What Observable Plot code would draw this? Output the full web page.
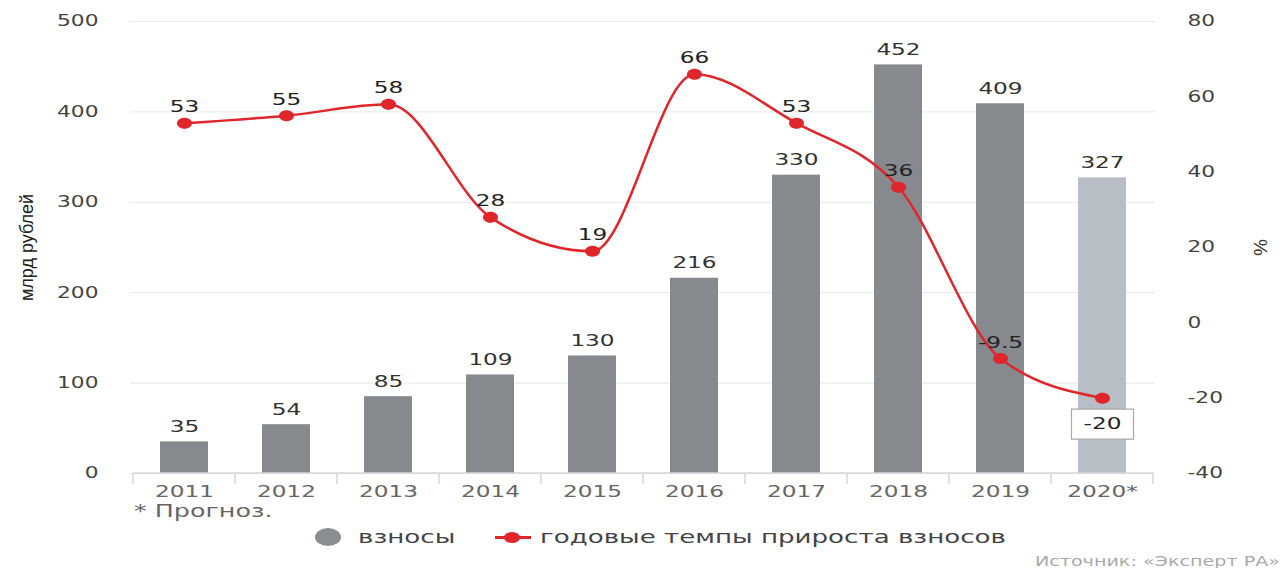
<!DOCTYPE html>
<html><head><meta charset="utf-8">
<script src="https://cdn.jsdelivr.net/npm/d3@7"></script>
<script src="https://cdn.jsdelivr.net/npm/@observablehq/plot@0.6"></script>
<style>
body{margin:0;background:#fff;font-family:"DejaVu Sans",sans-serif;}
#wrap{position:relative;width:1283px;height:568px;overflow:hidden;}
#chart svg{display:block;}
.st{position:absolute;transform:scaleX(1.45);transform-origin:left center;white-space:nowrap;line-height:1;}
.note{left:134px;top:503px;font-size:17.5px;color:#666;}
.lg{top:528px;font-size:18px;color:#444;}
.sw{position:absolute;left:315px;top:528px;width:26px;height:18px;border-radius:50%;background:#8a8e93;}
.ln{position:absolute;left:495px;top:536px;width:36px;height:3px;background:#e0262b;}
.ld{position:absolute;left:504px;top:532px;width:16px;height:11px;border-radius:50%;background:#e0262b;}
.src{position:absolute;right:3px;top:555px;font-size:13.2px;color:#aaa;white-space:nowrap;transform:scaleX(1.45);transform-origin:right center;line-height:1;}
</style></head>
<body>
<div id="wrap">
<div id="chart"></div>
<div class="st note">* Прогноз.</div>
<div class="sw"></div>
<div class="st lg" style="left:358px">взносы</div>
<div class="ln"></div><div class="ld"></div>
<div class="st lg" style="left:540px">годовые темпы прироста взносов</div>
<div class="src">Источник: «Эксперт РА»</div>
</div>
<script>
const years = ["2011","2012","2013","2014","2015","2016","2017","2018","2019","2020*"];
const premiums = [35,54,85,109,130,216,330,452,409,327];
const growth = [53,55,58,28,19,66,53,36,-9.5,-20];
const growthLabels = ["53","55","58","28","19","66","53","36","-9.5","-20"];
const leftTicks = [0,100,200,300,400,500];
const rightTicks = [-40,-20,0,20,40,60,80];
const forecastYear = "2020*";

const pMin = -40, pMax = 80, lMax = 500;
const toL = p => (p - pMin) * lMax / (pMax - pMin);
const fromL = v => v * (pMax - pMin) / lMax + pMin;

const bars = years.map((y,i)=>({year:y, value:premiums[i], forecast: y===forecastYear}));
const pts = years.map((y,i)=>({year:y, pct:growth[i], lv:toL(growth[i]), label:growthLabels[i]}));
const boxed = pts.filter(d=>d.year===forecastYear);
const unboxed = pts.filter(d=>d.year!==forecastYear);

const SX = 1.45;
const boxSymbol = {draw(ctx){ ctx.moveTo(-31,-15); ctx.lineTo(31,-15); ctx.lineTo(31,15); ctx.lineTo(-31,15); ctx.closePath(); }};
const ellipse = (rx, ry) => ({draw(ctx){
  const k = 0.5523;
  ctx.moveTo(rx,0);
  ctx.bezierCurveTo(rx, ry*k, rx*k, ry, 0, ry);
  ctx.bezierCurveTo(-rx*k, ry, -rx, ry*k, -rx, 0);
  ctx.bezierCurveTo(-rx, -ry*k, -rx*k, -ry, 0, -ry);
  ctx.bezierCurveTo(rx*k, -ry, rx, -ry*k, rx, 0);
  ctx.closePath();
}});

const padIn = 0.53;
const edgeTicks = (index, scales, values, dims) => {
  const x = scales.x, bw = x.bandwidth(), step = bw/(1-padIn), off=(step-bw)/2;
  const g = d3.create("svg:g").attr("stroke","#d3d6da").attr("stroke-width",1.5);
  const y0 = dims.height - dims.marginBottom;
  const edges = years.map(d=>x(d)-off).concat([x(years[years.length-1])+bw+off]);
  g.selectAll("line").data(edges).join("line")
    .attr("x1",d=>d).attr("x2",d=>d).attr("y1",y0).attr("y2",y0+11);
  g.append("line").attr("x1",edges[0]).attr("x2",edges[edges.length-1]).attr("y1",y0).attr("y2",y0);
  return g.node();
};

const chart = Plot.plot({
  width:1283, height:500,
  marginTop:21, marginBottom:27, marginLeft:130, marginRight:128,
  style:{fontFamily:"DejaVu Sans", fontSize:"15px", color:"#444", background:"#fff"},
  x:{domain:years, paddingInner:padIn, paddingOuter:padIn/2, label:null},
  y:{domain:[0,lMax], label:null},
  marks:[
    Plot.gridY(leftTicks, {stroke:"#e8e8e8", strokeOpacity:1}),
    Plot.barY(bars, {x:"year", y:"value", fill:d=>d.forecast?"#b7bec6":"#868a8f"}),
    edgeTicks,
    Plot.axisX({tickSize:0, tickPadding:12, fontSize:16, fill:"#666"}),
    Plot.axisY(leftTicks, {anchor:"left", tickSize:0, tickPadding:32, fontSize:15, fill:"#444"}),
    Plot.axisY(rightTicks.map(toL), {anchor:"right", tickSize:0, tickPadding:32, fontSize:15, fill:"#444", tickFormat:d=>String(Math.round(fromL(d)))}),
    Plot.text(bars, {x:"year", y:"value", text:d=>String(d.value), dy:-15, fontSize:16, fill:"#333"}),
    Plot.line(pts, {x:"year", y:"lv", stroke:"#e0262b", strokeWidth:2.5, curve:"monotone-x"}),
    Plot.dot(pts, {x:"year", y:"lv", symbol:ellipse(7.5,5.5), fill:"#e0262b", stroke:null}),
    Plot.text(unboxed, {x:"year", y:"lv", text:"label", dy:-16, fontSize:16, fill:"#222"}),
    Plot.dot(boxed, {x:"year", y:"lv", dy:26, symbol:boxSymbol, fill:"#fff", stroke:"#a9a9a9", strokeWidth:1.2}),
    Plot.text(boxed, {x:"year", y:"lv", text:"label", dy:26, fontSize:16, fill:"#222"}),
    Plot.text(["млрд рублей"], {frameAnchor:"left", textAnchor:"middle", dx:-103, rotate:-90, fontSize:18, fill:"#222", fontFamily:"Liberation Sans"}),
    Plot.text(["%"], {frameAnchor:"right", textAnchor:"middle", dx:105, rotate:90, fontSize:19, fill:"#333", fontFamily:"Liberation Sans"})
  ]
});
// horizontal stretch of glyphs (the reference is drawn wide)
d3.select(chart).selectAll("text").each(function(){
  const t = this.getAttribute("transform");
  if (t) {
    if (!t.includes("rotate")) this.setAttribute("transform", t + ` scale(${SX},1)`);
  } else {
    const x = +(this.getAttribute("x") || 0);
    this.setAttribute("transform", `translate(${x},0) scale(${SX},1) translate(${-x},0)`);
  }
});
document.getElementById("chart").appendChild(chart);
</script>
</body></html>
